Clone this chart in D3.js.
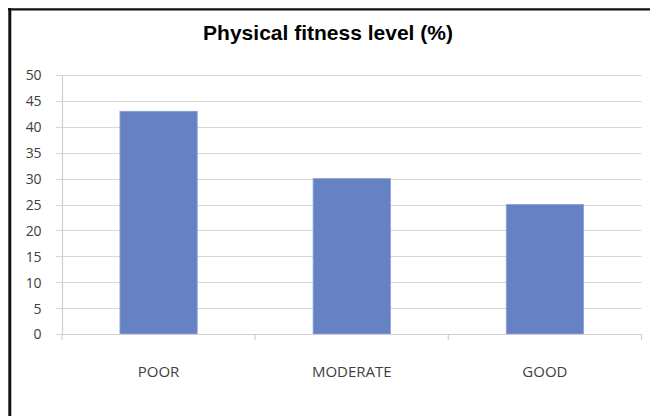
<!DOCTYPE html>
<html>
<head>
<meta charset="utf-8">
<script src="https://cdn.jsdelivr.net/npm/d3@7"></script>
<style>
  html, body { margin: 0; padding: 0; background: #fff; }
  svg { display: block; }
</style>
</head>
<body>
<svg id="chart" width="650" height="416"></svg>
<script>
// Fitness level categories and their share (%)
const categories = ["POOR", "MODERATE", "GOOD"];
const values = [43, 30, 25];
const yTicks = [0, 5, 10, 15, 20, 25, 30, 35, 40, 45, 50];
const title = "Physical fitness level (%)";

const svg = d3.select("#chart");
const W = 650, H = 416;

// Frame around the chart (open on the right and bottom)
svg.append("rect").attr("x", 0).attr("y", 0).attr("width", W).attr("height", H).attr("fill", "#fff");
svg.append("line").attr("x1", 8).attr("x2", W).attr("y1", 9.3).attr("y2", 9.3)
  .attr("stroke", "#111").attr("stroke-width", 2.2);
svg.append("line").attr("x1", 9.8).attr("x2", 9.8).attr("y1", 8).attr("y2", H)
  .attr("stroke", "#111").attr("stroke-width", 3);

// Title
svg.append("text")
  .attr("x", 328).attr("y", 40)
  .attr("text-anchor", "middle")
  .attr("font-family", "Liberation Sans, Arial, sans-serif")
  .attr("font-weight", "bold")
  .attr("font-size", 21)
  .attr("fill", "#000")
  .text(title);

const plot = { left: 62, right: 641.5, top: 75, bottom: 334 };

const x = d3.scaleBand()
  .domain(categories)
  .range([plot.left, plot.right])
  .paddingInner(0.6)
  .paddingOuter(0.3);

const y = d3.scaleLinear()
  .domain([0, 50])
  .range([plot.bottom, plot.top]);

// Horizontal gridlines
svg.append("g")
  .selectAll("line")
  .data(yTicks)
  .join("line")
  .attr("x1", plot.left - 6).attr("x2", plot.right)
  .attr("y1", d => Math.round(y(d)) + 0.5).attr("y2", d => Math.round(y(d)) + 0.5)
  .attr("stroke", "#d6d6d6").attr("stroke-width", 1.2);

// Y axis labels
const yAxis = d3.axisLeft(y).tickValues(yTicks).tickSize(0).tickPadding(0);
const gy = svg.append("g").attr("transform", `translate(41,0)`).call(yAxis);
gy.select(".domain").remove();
gy.selectAll("text")
  .attr("font-family", "Open Sans, sans-serif")
  .attr("font-size", 14)
  .attr("letter-spacing", -0.4)
  .attr("fill", "#404040")
  .attr("dy", "0.35em");

// Y axis line
svg.append("line")
  .attr("x1", plot.left + 0.5).attr("x2", plot.left + 0.5)
  .attr("y1", plot.top).attr("y2", plot.bottom + 1)
  .attr("stroke", "#cfcfcf").attr("stroke-width", 1.2);

// Bars
svg.append("g")
  .selectAll("rect")
  .data(values)
  .join("rect")
  .attr("x", (d, i) => x(categories[i]))
  .attr("width", x.bandwidth())
  .attr("y", d => y(d))
  .attr("height", d => y(0) - y(d))
  .attr("fill", "#6782c4")
  .attr("stroke", "#8aa0d6")
  .attr("stroke-width", 0.8);

// X axis with boundary ticks between categories
const boundaries = d3.range(categories.length + 1).map(i => plot.left + i * (plot.right - plot.left) / categories.length);
svg.append("line")
  .attr("x1", plot.left).attr("x2", plot.right)
  .attr("y1", plot.bottom + 0.5).attr("y2", plot.bottom + 0.5)
  .attr("stroke", "#cfcfcf").attr("stroke-width", 1.2);
svg.append("g")
  .selectAll("line")
  .data(boundaries)
  .join("line")
  .attr("x1", d => d).attr("x2", d => d)
  .attr("y1", plot.bottom).attr("y2", plot.bottom + 6)
  .attr("stroke", "#cfcfcf").attr("stroke-width", 1.2);

// Category labels
svg.append("g")
  .selectAll("text")
  .data(categories)
  .join("text")
  .attr("x", d => x(d) + x.bandwidth() / 2)
  .attr("y", 372)
  .attr("dy", "0.35em")
  .attr("text-anchor", "middle")
  .attr("font-family", "Open Sans, sans-serif")
  .attr("font-size", 15)
  .attr("fill", "#404040")
  .text(d => d);
</script>
</body>
</html>
